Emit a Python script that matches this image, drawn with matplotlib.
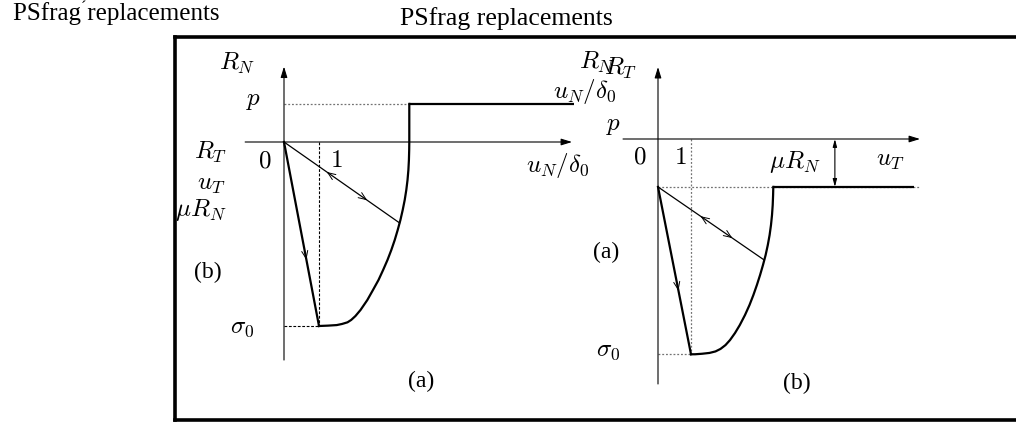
import matplotlib
matplotlib.use('Agg')
import matplotlib.pyplot as plt

plt.rcParams['mathtext.fontset'] = 'cm'

W, H = 1016, 423

# (a) normal law: u_N/delta_0 against R_N/|sigma_0|
n_load_u = [0, 1]
n_load_r = [0, -1]
n_soft_u = [1.0, 1.257, 1.506, 1.657, 1.814, 1.92, 2.04, 2.186, 2.38, 2.543, 2.7, 2.831, 2.957,
            3.066, 3.163, 3.249, 3.326, 3.391, 3.449, 3.494, 3.529, 3.554, 3.569, 3.577, 3.58, 3.58]
n_soft_r = [-1.0, -0.998, -0.995, -0.989, -0.98, -0.967, -0.946, -0.913, -0.859, -0.804, -0.75, -0.696, -0.641,
            -0.587, -0.533, -0.478, -0.424, -0.37, -0.315, -0.261, -0.207, -0.152, -0.098, -0.043, 0.0, 0.207]
n_plat_u = [3.58, 8.29]
n_plat_r = [0.207, 0.207]
n_unload_u = [0, 3.303]
n_unload_r = [0, -0.44]
p_level = 0.207

# (b) tangential law: u_T against R_T
t_load_u = [0, 1]
t_load_r = [-0.287, -1.289]
t_soft_u = [1.0, 1.121, 1.333, 1.561, 1.742, 1.894, 2.045, 2.182, 2.333, 2.479, 2.636, 2.773,
            2.891, 2.997, 3.094, 3.182, 3.261, 3.327, 3.382, 3.424, 3.455, 3.476, 3.488, 3.494]
t_soft_r = [-1.289, -1.289, -1.286, -1.281, -1.272, -1.257, -1.234, -1.204, -1.162, -1.114, -1.054, -0.994,
            -0.934, -0.874, -0.814, -0.754, -0.695, -0.635, -0.575, -0.515, -0.455, -0.395, -0.335, -0.287]
t_plat_u = [3.494, 7.76]
t_plat_r = [-0.287, -0.287]
t_unload_u = [0, 3.221]
t_unload_r = [-0.287, -0.725]
mu_level = -0.287

fig = plt.figure(figsize=(W / 100, H / 100), dpi=100)


def panel(x0, y0, sx, sy):
    ax = fig.add_axes([0, 0, 1, 1])
    ax.set_xlim(-x0 / sx, (W - x0) / sx)
    ax.set_ylim(-(H - y0) / sy, y0 / sy)
    ax.axis('off')
    ax.patch.set_alpha(0)
    return ax


def axis_arrow(ax, a, b):
    ax.annotate('', xy=b, xytext=a,
                arrowprops=dict(arrowstyle='-|>,head_length=0.65,head_width=0.2',
                                lw=0.8, color='black', shrinkA=0, shrinkB=0,
                                mutation_scale=10))


def mid_arrow(ax, us, rs, f, back=False):
    du, dr = us[1] - us[0], rs[1] - rs[0]
    p1 = (us[0] + du * f, rs[0] + dr * f)
    p0 = (us[0] + du * (f - 0.02), rs[0] + dr * (f - 0.02))
    if back:
        p0 = (us[0] + du * (f + 0.02), rs[0] + dr * (f + 0.02))
    ax.annotate('', xy=p1, xytext=p0,
                arrowprops=dict(arrowstyle='->,head_length=0.55,head_width=0.22',
                                lw=0.7, color='black', shrinkA=0, shrinkB=0,
                                mutation_scale=10))


# left panel
axl = panel(284, 142, 35, 184)
axis_arrow(axl, (-1.11, 0), (8.23, 0))
axis_arrow(axl, (0, -1.185), (0, 0.41))
axl.plot([0, n_plat_u[0]], [p_level, p_level], ls=(0, (1.5, 1.5)), color='0.45', lw=0.9)
axl.plot([0, 1], [-1, -1], ls=(0, (2.5, 1.5)), color='black', lw=0.8)
axl.plot([1, 1], [0, -1], ls=(0, (2.5, 1.5)), color='black', lw=0.8)
axl.plot(n_load_u, n_load_r, color='black', lw=1.6)
axl.plot(n_soft_u, n_soft_r, color='black', lw=1.6)
axl.plot(n_plat_u, n_plat_r, color='black', lw=1.6, solid_capstyle='butt')
axl.plot(n_unload_u, n_unload_r, color='black', lw=0.9)
mid_arrow(axl, n_load_u, n_load_r, 0.64)
mid_arrow(axl, n_unload_u, n_unload_r, 0.37, back=True)
mid_arrow(axl, n_unload_u, n_unload_r, 0.72)

# right panel
axr = panel(658, 139, 33, 167)
axis_arrow(axr, (-1.06, 0), (7.94, 0))
axis_arrow(axr, (0, -1.467), (0, 0.431))
axr.plot([0, 7.9], [mu_level, mu_level], ls=(0, (1.5, 1.5)), color='0.45', lw=0.9)
axr.plot([0, 1], [t_load_r[1], t_load_r[1]], ls=(0, (1.5, 1.5)), color='0.45', lw=0.9)
axr.plot([1, 1], [0, t_load_r[1]], ls=(0, (1.5, 1.5)), color='0.45', lw=0.9)
axr.plot(t_load_u, t_load_r, color='black', lw=1.6)
axr.plot(t_soft_u, t_soft_r, color='black', lw=1.6)
axr.plot(t_plat_u, t_plat_r, color='black', lw=1.6, solid_capstyle='butt')
axr.plot(t_unload_u, t_unload_r, color='black', lw=0.9)
mid_arrow(axr, t_load_u, t_load_r, 0.62)
mid_arrow(axr, t_unload_u, t_unload_r, 0.40, back=True)
mid_arrow(axr, t_unload_u, t_unload_r, 0.70)
axr.annotate('', xy=(5.36, mu_level), xytext=(5.36, 0),
             arrowprops=dict(arrowstyle='<|-|>,head_length=0.45,head_width=0.12',
                             lw=0.8, color='black', shrinkA=0, shrinkB=0,
                             mutation_scale=10))

# frame and labels in pixel units
ax0 = fig.add_axes([0, 0, 1, 1])
ax0.set_xlim(0, W)
ax0.set_ylim(H, 0)
ax0.axis('off')
ax0.patch.set_alpha(0)

serif = dict(family='Liberation Serif', ha='center', va='center')
ms = 18


def m(x, y, s, size=ms, **kw):
    kw.setdefault('ha', 'center')
    ax0.text(x, y, s, fontsize=size, va='center', **kw)


ax0.text(116, 14, 'PSfrag replacements', fontsize=18, **serif)
ax0.text(83, 8, '\u00b4', fontsize=12, **serif)
ax0.text(506, 19, 'PSfrag replacements', fontsize=18.5, **serif)

m(237, 63, r'$R_N$')
m(254, 100, r'$p$')
m(265, 160, r'$0$')
m(336, 160, r'$1$')
m(242, 327, r'$\sigma_0$')
m(558, 166, r'$u_N/\delta_0$')
ax0.text(421, 381, '(a)', fontsize=17, **serif)

m(211, 152, r'$R_T$')
m(211, 184, r'$u_T$')
m(226, 210, r'$\mu R_N$', ha='right')
ax0.text(208, 272, '(b)', fontsize=17, **serif)

m(597, 62, r'$R_N$')
m(621, 68, r'$R_T$')
m(585, 91, r'$u_N/\delta_0$')
m(614, 125, r'$p$')
m(640, 157, r'$0$')
m(680, 157, r'$1$')
m(795, 162, r'$\mu R_N$')
m(890, 160, r'$u_T$')
ax0.text(606, 252, '(a)', fontsize=17, **serif)
m(608, 350, r'$\sigma_0$')
ax0.text(797, 383, '(b)', fontsize=17, **serif)

box = dict(color='black', lw=2.6, solid_capstyle='projecting')
ax0.plot([174.5, 174.5], [37.5, 420.5], **box)
ax0.plot([174.5, W + 5], [37.5, 37.5], **box)
ax0.plot([174.5, W + 5], [420.5, 420.5], **box)

fig.savefig('out.png', dpi=100)
